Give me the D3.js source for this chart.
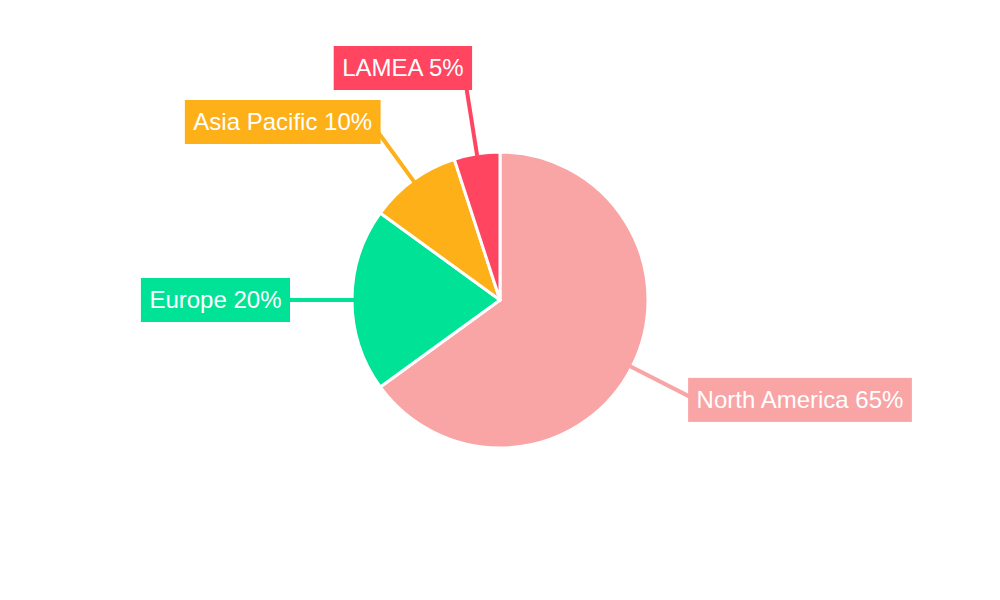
<!DOCTYPE html>
<html>
<head>
<meta charset="utf-8">
<script src="https://cdn.jsdelivr.net/npm/d3@7"></script>
<style>
html,body{margin:0;padding:0;background:#fff;}
svg{display:block;}
</style>
</head>
<body>
<svg id="chart" width="1000" height="600"></svg>
<script>
const categories = ["North America", "Europe", "Asia Pacific", "LAMEA"];
const shares = [65, 20, 10, 5];
const colors = ["#F9A5A6", "#00E396", "#FEB019", "#FF4560"];

const W = 1000, H = 600, cx = 500, cy = 300, R = 148;
const svg = d3.select("#chart");
const g = svg.append("g").attr("transform", `translate(${cx},${cy})`);

const data = categories.map((c, i) => ({ name: c, value: shares[i], color: colors[i] }));
const pie = d3.pie().value(d => d.value).sort(null);
const arcs = pie(data);
const arc = d3.arc().innerRadius(0).outerRadius(R);

g.selectAll("path.slice").data(arcs).enter().append("path")
  .attr("class", "slice")
  .attr("d", arc)
  .attr("fill", d => d.data.color)
  .attr("stroke", "#fff")
  .attr("stroke-width", 3)
  .attr("stroke-linejoin", "round");

// label layout
const fontSize = 24, padX = 8.5, boxH = 44, gap = 10;
const FONT = "'Liberation Sans', Arial, sans-serif";
const measure = svg.append("text").attr("font-family", FONT).attr("font-size", fontSize);
const labels = arcs.map(a => {
  const mid = (a.startAngle + a.endAngle) / 2;
  const s = Math.sin(mid), c = -Math.cos(mid);
  const text = `${a.data.name} ${a.data.value}%`;
  measure.text(text);
  const tw = measure.node().getComputedTextLength();
  const w = tw + 2 * padX;
  const right = s > 0;
  const ax = right ? 210 * s + 1 : 210 * s + 5 * Math.abs(c);
  const x0 = right ? ax : ax - w;
  const y = 220 * c;
  return { a, mid, s, c, text, w, x0, y, right };
});
measure.remove();

// resolve overlaps on each side, pushing upward
["left", "right"].forEach(side => {
  const list = labels.filter(l => (side === "right") === l.right).sort((p, q) => q.y - p.y);
  for (let i = 1; i < list.length; i++) {
    for (let j = 0; j < i; j++) {
      const A = list[i], B = list[j];
      const hOverlap = A.x0 < B.x0 + B.w && B.x0 < A.x0 + A.w;
      if (hOverlap && A.y > B.y - (boxH + gap)) A.y = B.y - (boxH + gap);
    }
  }
});

// leader lines
g.selectAll("line.leader").data(labels).enter().append("line")
  .attr("class", "leader")
  .attr("x1", d => (R - 2) * d.s).attr("y1", d => (R - 2) * d.c)
  .attr("x2", d => 225 * d.s).attr("y2", d => 225 * d.c)
  .attr("stroke", d => d.a.data.color)
  .attr("stroke-width", 4);

const lg = g.selectAll("g.label").data(labels).enter().append("g")
  .attr("class", "label")
  .attr("transform", d => `translate(${d.x0},${d.y - boxH / 2})`);
lg.append("rect")
  .attr("width", d => d.w).attr("height", boxH)
  .attr("fill", d => d.a.data.color);
lg.append("text")
  .attr("x", padX).attr("y", boxH / 2)
  .attr("dy", "0.35em")
  .attr("font-family", FONT)
  .attr("font-size", fontSize)
  .attr("fill", "#fff")
  .text(d => d.text);
</script>
</body>
</html>
